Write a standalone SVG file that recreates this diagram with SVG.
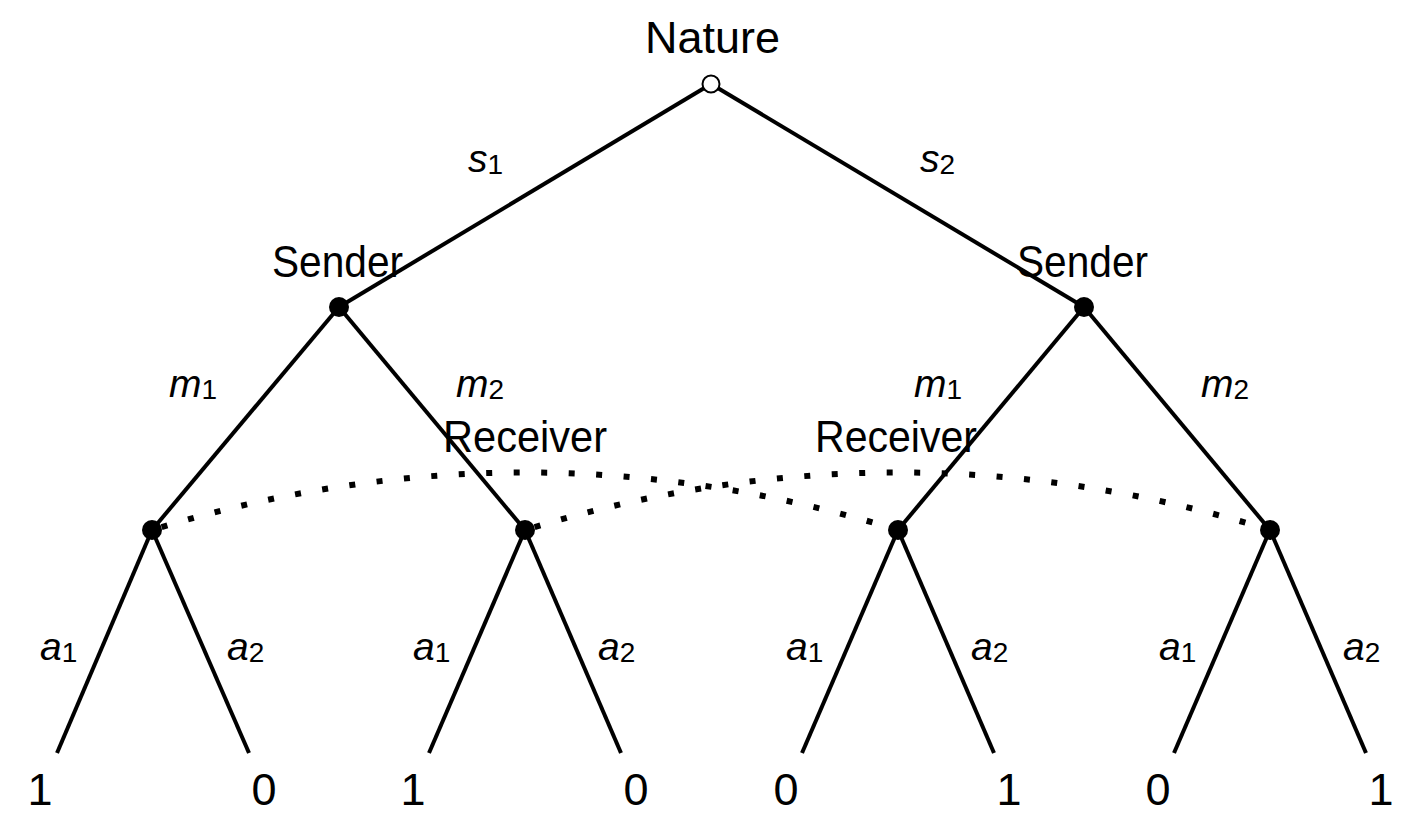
<svg xmlns="http://www.w3.org/2000/svg" width="1414" height="840" viewBox="0 0 1414 840">
<style>
.edge{stroke:#000;stroke-width:4;fill:none;stroke-linecap:butt}
.info{stroke:#000;stroke-width:6;fill:none;stroke-dasharray:6 21.5;stroke-dashoffset:17.5}
.dec{fill:#000}
.chance{fill:#fff;stroke:#000;stroke-width:2}
.lbl{font-family:"Liberation Sans",Arial,sans-serif;font-size:45px;fill:#000}
.math{font-family:"Liberation Sans",Arial,sans-serif;font-size:39px;font-style:italic;fill:#000}
.sub{font-size:28px;font-style:normal}
.pay{font-family:"Liberation Sans",Arial,sans-serif;font-size:45px;fill:#000;text-anchor:middle}
</style>
<rect width="1414" height="840" fill="#fff"/>
<g id="connectors">
<line class="edge" x1="711" y1="84" x2="339" y2="307"/>
<line class="edge" x1="711" y1="84" x2="1084" y2="307"/>
<line class="edge" x1="339" y1="307" x2="152" y2="530"/>
<line class="edge" x1="339" y1="307" x2="525" y2="530"/>
<line class="edge" x1="1084" y1="307" x2="898" y2="530"/>
<line class="edge" x1="1084" y1="307" x2="1270" y2="530"/>
<line class="edge" x1="152" y1="530" x2="57" y2="753"/>
<line class="edge" x1="152" y1="530" x2="249" y2="753"/>
<line class="edge" x1="525" y1="530" x2="429" y2="753"/>
<line class="edge" x1="525" y1="530" x2="621" y2="753"/>
<line class="edge" x1="898" y1="530" x2="802" y2="753"/>
<line class="edge" x1="898" y1="530" x2="994" y2="753"/>
<line class="edge" x1="1270" y1="530" x2="1174" y2="753"/>
<line class="edge" x1="1270" y1="530" x2="1366" y2="753"/>
<path class="info" d="M152,530 Q525,415 898,530"/>
<path class="info" d="M525,530 Q898,415 1270,530"/>
<text class="math" x="468" y="172">s<tspan class="sub" dy="2">1</tspan></text>
<text class="math" x="920" y="172">s<tspan class="sub" dy="2">2</tspan></text>
<text class="math" x="169" y="397">m<tspan class="sub" dy="2">1</tspan></text>
<text class="math" x="456" y="397">m<tspan class="sub" dy="2">2</tspan></text>
<text class="math" x="914" y="397">m<tspan class="sub" dy="2">1</tspan></text>
<text class="math" x="1201" y="397">m<tspan class="sub" dy="2">2</tspan></text>
<text class="math" x="40" y="660">a<tspan class="sub" dy="2">1</tspan></text>
<text class="math" x="227" y="660">a<tspan class="sub" dy="2">2</tspan></text>
<text class="math" x="413" y="660">a<tspan class="sub" dy="2">1</tspan></text>
<text class="math" x="598" y="660">a<tspan class="sub" dy="2">2</tspan></text>
<text class="math" x="786" y="660">a<tspan class="sub" dy="2">1</tspan></text>
<text class="math" x="971" y="660">a<tspan class="sub" dy="2">2</tspan></text>
<text class="math" x="1159" y="660">a<tspan class="sub" dy="2">1</tspan></text>
<text class="math" x="1343" y="660">a<tspan class="sub" dy="2">2</tspan></text>
</g>
<g id="nature">
<circle class="chance" cx="711" cy="84" r="8.5"/>
<text class="lbl" x="645" y="53" textLength="135" lengthAdjust="spacingAndGlyphs">Nature</text>
</g>
<g id="sender1">
<circle class="dec" cx="339" cy="307" r="10"/>
<text class="lbl" x="272" y="277" textLength="131" lengthAdjust="spacingAndGlyphs">Sender</text>
</g>
<g id="sender2">
<circle class="dec" cx="1084" cy="307" r="10"/>
<text class="lbl" x="1017" y="277" textLength="131" lengthAdjust="spacingAndGlyphs">Sender</text>
</g>
<g id="receiver1">
<circle class="dec" cx="152" cy="530" r="10"/>
</g>
<g id="receiver2">
<circle class="dec" cx="525" cy="530" r="10"/>
<text class="lbl" x="443" y="452" textLength="164" lengthAdjust="spacingAndGlyphs">Receiver</text>
</g>
<g id="receiver3">
<circle class="dec" cx="898" cy="530" r="10"/>
<text class="lbl" x="815" y="452" textLength="162" lengthAdjust="spacingAndGlyphs">Receiver</text>
</g>
<g id="receiver4">
<circle class="dec" cx="1270" cy="530" r="10"/>
</g>
<g id="leaf1"><text class="pay" x="40" y="805">1</text></g>
<g id="leaf2"><text class="pay" x="264" y="805">0</text></g>
<g id="leaf3"><text class="pay" x="413" y="805">1</text></g>
<g id="leaf4"><text class="pay" x="636" y="805">0</text></g>
<g id="leaf5"><text class="pay" x="786" y="805">0</text></g>
<g id="leaf6"><text class="pay" x="1009" y="805">1</text></g>
<g id="leaf7"><text class="pay" x="1158" y="805">0</text></g>
<g id="leaf8"><text class="pay" x="1381" y="805">1</text></g>
</svg>
